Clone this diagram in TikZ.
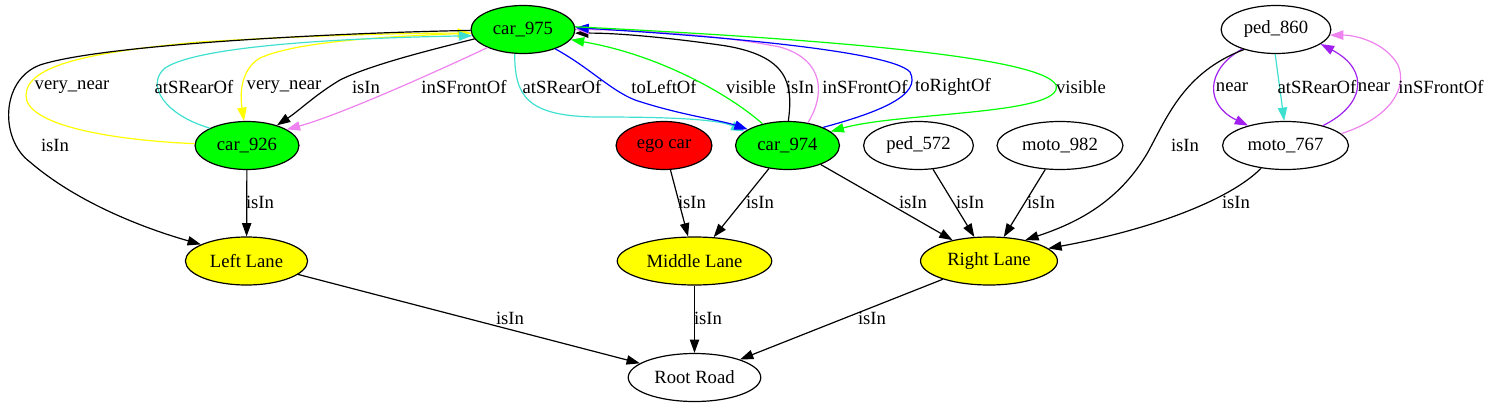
\documentclass[tikz,border=0pt]{standalone}
\usepackage{fontspec}
\setmainfont{Liberation Serif}
\usetikzlibrary{arrows.meta,shapes.geometric}

\definecolor{gvturq}{RGB}{64,224,208}
\definecolor{gvviolet}{RGB}{238,130,238}
\definecolor{gvpurple}{RGB}{160,32,240}
\definecolor{gvyellow}{RGB}{255,255,0}
\definecolor{gvgreen}{RGB}{0,255,0}

\begin{document}
\begin{tikzpicture}[
	% pixel grid of the scene graph:
	x=0.75pt,   % x→E
	y=-0.75pt,  % y→S
	font=\fontsize{14}{16}\selectfont,
	obj/.style={ellipse,draw=black,line width=0.9pt,minimum height=36pt,inner xsep=5pt},
	car/.style={obj,fill=gvgreen},
	egocar/.style={obj,fill=red},
	lane/.style={obj,fill=gvyellow},
	rel/.style={-{Triangle[length=10pt,width=7pt]},line width=0.9pt},
	lbl/.style={inner sep=1pt}
	]
	\useasboundingbox (0,0) rectangle (1488,407);
	
	%
	% Objects
	%
	\node[car]    (c975) at (523,29.5)   {car\_975};
	\node[obj]    (p860) at (1276,29.5)  {ped\_860};
	\node[car]    (c926) at (247,145.5)  {car\_926};
	\node[egocar] (ego)  at (664,145.5)  {ego car};
	\node[car]    (c974) at (787.5,145.5){car\_974};
	\node[obj]    (p572) at (918.5,145.5){ped\_572};
	\node[obj]    (m982) at (1060,145.5) {moto\_982};
	\node[obj]    (m767) at (1285.5,145.5){moto\_767};
	\node[lane]   (lleft)  at (246.5,261){Left Lane};
	\node[lane]   (lmid)   at (694.5,261){Middle Lane};
	\node[lane]   (lright) at (989,261)  {Right Lane};
	\node[obj]    (road) at (694.5,377.5){Root Road};
	
	%
	% car_975 <-> car_926
	%
	\draw[rel] (c975.191) .. controls (430,50) and (370,65) .. (340,80)
		.. controls (315,95) and (300,110) .. (c926.34) node[lbl,at={(366,87)}] {isIn};
	\draw[rel,gvviolet] (c975.207) .. controls (440,70) and (340,115) .. (c926.22)
		node[lbl,black,at={(464,87)}] {inSFrontOf};
	\draw[rel,gvyellow] (c975.184) .. controls (400,36) and (300,40) .. (260,58)
		.. controls (240,70) and (240,95) .. (c926.97) node[lbl,black,at={(284,87)}] {very\_near};
	\draw[rel,gvyellow] (c926.178) .. controls (110,140) and (25,125) .. (26,95)
		.. controls (27,65) and (90,52) .. (200,42)
		.. controls (300,36) and (400,33) .. (c975.184) node[lbl,black,at={(72,87)}] {very\_near};
	\draw[rel,gvturq] (c926.155) .. controls (165,115) and (145,85) .. (165,68)
		.. controls (200,45) and (350,38) .. (c975.187) node[lbl,black,at={(194,87)}] {atSRearOf};
	% car_975 -> Left Lane
	\draw[rel] (c975.181) .. controls (330,33) and (100,45) .. (40,65)
		.. controls (0,80) and (0,140) .. (30,162)
		.. controls (80,205) and (150,230) .. (lleft.160) node[lbl,at={(55,145)}] {isIn};
	
	%
	% car_975 <-> car_974
	%
	\draw[rel,gvturq] (c975.251) .. controls (515,95) and (525,117) .. (600,117)
		.. controls (680,117) and (720,120) .. (c974.162) node[lbl,black,at={(562,87)}] {atSRearOf};
	\draw[rel,blue] (c975.-31) .. controls (590,68) and (610,90) .. (635,100)
		.. controls (680,115) and (720,120) .. (c974.158) node[lbl,black,at={(664,87)}] {toLeftOf};
	\draw[rel,gvgreen] (c974.139) .. controls (730,95) and (660,55) .. (c975.-12)
		node[lbl,black,at={(751,87)}] {visible};
	\draw[rel] (c974.88) .. controls (793,85) and (790,55) .. (720,45)
		.. controls (670,38) and (620,33) .. (c975.-4) node[lbl,at={(800,87)}] {isIn};
	\draw[rel,gvviolet] (c974.48) .. controls (825,95) and (825,60) .. (780,47)
		.. controls (720,35) and (640,30) .. (c975.0) node[lbl,black,at={(865,87)}] {inSFrontOf};
	\draw[rel,blue] (c974.27) .. controls (880,112) and (922,95) .. (910,72)
		.. controls (890,50) and (700,35) .. (c975.2) node[lbl,black,at={(953,87)}] {toRightOf};
	\draw[rel,gvgreen] (c975.3) .. controls (800,38) and (1040,55) .. (1056,85)
		.. controls (1065,115) and (900,112) .. (c974.18) node[lbl,black,at={(1081,87)}] {visible};
	
	%
	% ped_860 <-> moto_767
	%
	\draw[rel,gvpurple] (p860.210) .. controls (1205,70) and (1205,105) .. (m767.152)
		node[lbl,black,at={(1232,87)}] {near};
	\draw[rel,gvturq] (p860.268) -- (m767.93) node[lbl,black,at={(1317,87)}] {atSRearOf};
	\draw[rel,gvpurple] (m767.28) .. controls (1365,105) and (1370,70) .. (p860.-18)
		node[lbl,black,at={(1374,87)}] {near};
	\draw[rel,gvviolet] (m767.12) .. controls (1390,118) and (1408,88) .. (1398,65)
		.. controls (1385,42) and (1355,35) .. (p860.-6) node[lbl,black,at={(1441,87)}] {inSFrontOf};
	\draw[rel] (p860.212) .. controls (1185,72) and (1168,115) .. (1148,152)
		.. controls (1120,200) and (1080,222) .. (lright.30) node[lbl,at={(1185,145)}] {isIn};
	\draw[rel] (m767.223) .. controls (1230,200) and (1150,230) .. (lright.12)
		node[lbl,at={(1236,202)}] {isIn};
	
	%
	% straight isIn edges
	%
	\foreach \a/\b/\lx/\ly in {c926/lleft/260/202, ego/lmid/692/202, c974/lmid/760/202,
		c974/lright/913/202, p572/lright/970/202, m982/lright/1041/202,
		lleft/road/510/318, lmid/road/708/318, lright/road/872/318}
		\draw[rel] (\a) -- (\b) node[lbl,at={(\lx,\ly)}] {isIn};
\end{tikzpicture}
\end{document}
